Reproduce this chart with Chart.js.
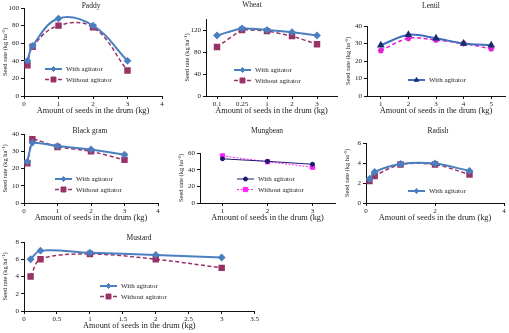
<!DOCTYPE html>
<html lang="en">
<head>
  <meta charset="UTF-8" />
  <title>Seed rate with and without agitator</title>
  <script src="https://cdn.jsdelivr.net/npm/chart.js"></script>
  <style>
    body { margin: 0; background: #fff; width: 509px; height: 333px; position: relative; overflow: hidden; }
    .panel { position: absolute; }
  </style>
</head>
<body>
  <div class="panel" id="p1"><canvas id="c1"></canvas></div>
  <div class="panel" id="p2"><canvas id="c2"></canvas></div>
  <div class="panel" id="p3"><canvas id="c3"></canvas></div>
  <div class="panel" id="p4"><canvas id="c4"></canvas></div>
  <div class="panel" id="p5"><canvas id="c5"></canvas></div>
  <div class="panel" id="p6"><canvas id="c6"></canvas></div>
  <div class="panel" id="p7"><canvas id="c7"></canvas></div>

  <script>
    // data (seed rate, kg/ha)
    const paddyX = [0.1, 0.25, 1, 2, 3];
    const paddyWith = [40, 57, 88, 80, 40];
    const paddyWithout = [35, 56, 80, 78, 29];

    const wheatLabels = ['0.1', '0.25', '1', '2', '3'];
    const wheatWith = [110, 123, 120, 116, 110];
    const wheatWithout = [89, 120, 118, 109, 94];

    const lentilX = [1, 2, 3, 4, 5];
    const lentilWith = [29, 35, 33, 30, 29];
    const lentilWithout = [26, 33, 32, 30, 27];

    const blackgramX = [0.1, 0.25, 1, 2, 3];
    const blackgramWith = [24, 35, 33, 31, 28];
    const blackgramWithout = [23, 37, 32.5, 30, 25];

    const mungbeanX = [1, 2, 3];
    const mungbeanWith = [53, 50, 46.5];
    const mungbeanWithout = [56.5, 49.5, 43];

    const radishX = [0.1, 0.25, 1, 2, 3];
    const radishWith = [2.4, 3.1, 3.9, 3.95, 3.2];
    const radishWithout = [2.2, 2.7, 3.85, 3.85, 2.85];

    const mustardX = [0.1, 0.25, 1, 2, 3];
    const mustardWith = [6, 7, 6.75, 6.5, 6.2];
    const mustardWithout = [4, 6, 6.6, 6, 5];

    const FONT = '"Liberation Serif", "Times New Roman", serif';
    const BLUE = '#4a7fc0';
    const MAROON = '#993366';

    const pts = (xs, ys) => xs.map((x, i) => ({ x: x, y: ys[i] }));

    function withAg(data, tension) {
      return { label: 'With agitator', data: data, borderColor: BLUE, backgroundColor: BLUE,
        borderWidth: 2, pointStyle: 'rectRot', pointRadius: 2.5, tension: tension };
    }
    function withoutAg(data, tension) {
      return { label: 'Without agitator', data: data, borderColor: MAROON, backgroundColor: MAROON,
        borderWidth: 1.5, borderDash: [4, 2.5], pointStyle: 'rect', pointRadius: 3.5, tension: tension };
    }

    // panel title + in-plot legend
    const panelDecor = {
      id: 'panelDecor',
      afterDatasetsDraw(chart, args, opts) {
        const ctx = chart.ctx;
        const area = chart.chartArea;
        ctx.save();
        ctx.fillStyle = '#222';
        ctx.font = '7.5px ' + FONT;
        ctx.textAlign = 'center';
        ctx.textBaseline = 'middle';
        ctx.fillText(opts.title, opts.titleX, opts.titleY);

        ctx.textAlign = 'left';
        opts.items.forEach((idx, row) => {
          const ds = chart.data.datasets[idx];
          const x = area.left + opts.dx;
          const y = area.top + opts.dy + row * 10.5;
          ctx.strokeStyle = ds.borderColor;
          ctx.lineWidth = ds.borderWidth;
          ctx.setLineDash(ds.borderDash || []);
          ctx.beginPath();
          ctx.moveTo(x, y);
          ctx.lineTo(x + 17, y);
          ctx.stroke();
          ctx.setLineDash([]);
          ctx.fillStyle = ds.pointBackgroundColor || ds.backgroundColor;
          ctx.strokeStyle = ds.pointBorderColor || ds.borderColor;
          ctx.lineWidth = 1;
          Chart.helpers.drawPoint(ctx, { pointStyle: ds.pointStyle, radius: ds.pointRadius, rotation: 0, borderWidth: 1 }, x + 8.5, y);
          ctx.fillStyle = '#222';
          ctx.font = '7px ' + FONT;
          ctx.fillText(ds.label, x + 21, y + 0.5);
        });
        ctx.restore();
      }
    };

    function panel(n, cfg) {
      const box = { x: cfg.plot.l - 24, y: cfg.top };
      const el = document.getElementById('p' + n);
      const w = cfg.plot.r - box.x + 5;
      const h = cfg.plot.b + 20 - box.y;
      el.style.left = box.x + 'px';
      el.style.top = box.y + 'px';
      el.style.width = w + 'px';
      el.style.height = h + 'px';

      const axisCommon = {
        border: { display: true, color: '#111', width: 1 },
        grid: { display: true, drawOnChartArea: false, drawTicks: true, tickLength: 3, color: '#111' }
      };

      new Chart(document.getElementById('c' + n), {
        type: 'line',
        data: { datasets: cfg.datasets },
        options: {
          responsive: true,
          maintainAspectRatio: false,
          animation: false,
          layout: { autoPadding: false, padding: { top: cfg.plot.t - box.y, right: 5, left: 0, bottom: 0 } },
          plugins: {
            legend: { display: false },
            tooltip: { enabled: false },
            panelDecor: {
              title: cfg.title,
              titleX: cfg.titleAt[0] - box.x,
              titleY: cfg.titleAt[1] - box.y,
              dx: cfg.legendAt[0] - cfg.plot.l,
              dy: cfg.legendAt[1] - cfg.plot.t,
              items: cfg.legendItems
            }
          },
          scales: {
            x: Object.assign({}, axisCommon, {
              type: 'linear',
              min: cfg.xMin, max: cfg.xMax,
              afterFit: s => { s.height = 20; },
              afterBuildTicks: s => {
                const ticks = [];
                for (let v = Math.ceil(cfg.xMin / cfg.xStep - 1e-9) * cfg.xStep; v <= cfg.xMax + 1e-9; v += cfg.xStep) {
                  ticks.push({ value: Math.round(v * 1000) / 1000 });
                }
                s.ticks = ticks;
              },
              ticks: {
                padding: 1, color: '#222', maxRotation: 0, autoSkip: false,
                font: { family: FONT, size: 7 },
                callback: v => cfg.xLabels ? (cfg.xLabels[v - 1] || '') : String(v)
              },
              title: { display: true, text: 'Amount of seeds in the drum (kg)', color: '#222',
                font: { family: FONT, size: 8.3 }, padding: { top: 0, bottom: 0 } }
            }),
            y: Object.assign({}, axisCommon, {
              min: 0, max: cfg.yMax,
              afterFit: s => { s.width = 24; },
              ticks: { stepSize: cfg.yStep, padding: 2, color: '#222', font: { family: FONT, size: 7 } },
              title: { display: true, text: 'Seed rate (kg ha\u207B\u00B9)', color: '#222',
                font: { family: FONT, size: 6.5 }, padding: { top: 1, bottom: 0 } }
            })
          }
        },
        plugins: [panelDecor]
      });
    }

    panel(1, {
      top: 0, plot: { l: 24, t: 8, r: 162, b: 96 },
      xMin: 0, xMax: 4, xStep: 1, yMax: 100, yStep: 20,
      title: 'Paddy', titleAt: [91, 6], legendAt: [45, 69], legendItems: [0, 1],
      datasets: [withAg(pts(paddyX, paddyWith), 0.4), withoutAg(pts(paddyX, paddyWithout), 0.4)]
    });

    panel(2, {
      top: 0, plot: { l: 206, t: 19, r: 337, b: 96 },
      xMin: 0.56, xMax: 5.8, xStep: 1, xLabels: wheatLabels, yMax: 140, yStep: 20,
      title: 'Wheat', titleAt: [252, 5], legendAt: [234, 70], legendItems: [0, 1],
      datasets: [
        withAg(pts([1, 2, 3, 4, 5], wheatWith), 0.1),
        withoutAg(pts([1, 2, 3, 4, 5], wheatWithout), 0.1)
      ]
    });

    panel(3, {
      top: 0, plot: { l: 367, t: 26, r: 505, b: 96 },
      xMin: 0.5, xMax: 5.5, xStep: 1, yMax: 40, yStep: 10,
      title: 'Lentil', titleAt: [431, 6], legendAt: [408, 80], legendItems: [0],
      datasets: [
        { label: 'With agitator', data: pts(lentilX, lentilWith), borderColor: '#3f6fb8', backgroundColor: '#1c2a6e',
          pointBackgroundColor: '#1c2a6e', pointBorderColor: '#1c2a6e',
          borderWidth: 2, pointStyle: 'triangle', pointRadius: 2.5, tension: 0.3 },
        { label: 'Without agitator', data: pts(lentilX, lentilWithout), borderColor: '#e020d8', backgroundColor: '#e020d8',
          borderWidth: 1.5, borderDash: [4, 2.5], pointStyle: 'star', pointRadius: 3, pointBorderWidth: 1.5, tension: 0.3 }
      ]
    });

    panel(4, {
      top: 120, plot: { l: 24, t: 134, r: 158, b: 203 },
      xMin: 0, xMax: 4, xStep: 1, yMax: 40, yStep: 10,
      title: 'Black gram', titleAt: [90, 131], legendAt: [55, 179], legendItems: [0, 1],
      datasets: [withAg(pts(blackgramX, blackgramWith), 0.1), withoutAg(pts(blackgramX, blackgramWithout), 0.1)]
    });

    panel(5, {
      top: 120, plot: { l: 200, t: 153, r: 335, b: 203 },
      xMin: 0.5, xMax: 3.5, xStep: 1, yMax: 60, yStep: 20,
      title: 'Mungbean', titleAt: [267, 131], legendAt: [237, 179], legendItems: [0, 1],
      datasets: [
        { label: 'With agitator', data: pts(mungbeanX, mungbeanWith), borderColor: '#1a1a6e', backgroundColor: '#1a1a6e',
          borderWidth: 1, pointStyle: 'circle', pointRadius: 2, tension: 0 },
        { label: 'Without agitator', data: pts(mungbeanX, mungbeanWithout), borderColor: '#ff22ff', backgroundColor: '#ff22ff',
          borderWidth: 1, borderDash: [2, 1.5], pointStyle: 'rect', pointRadius: 3, tension: 0 }
      ]
    });

    panel(6, {
      top: 120, plot: { l: 366, t: 143, r: 504, b: 203 },
      xMin: 0, xMax: 4, xStep: 2, yMax: 6, yStep: 2,
      title: 'Radish', titleAt: [438, 131], legendAt: [408, 191], legendItems: [0],
      datasets: [withAg(pts(radishX, radishWith), 0.3), withoutAg(pts(radishX, radishWithout), 0.3)]
    });

    panel(7, {
      top: 226, plot: { l: 24, t: 242, r: 255, b: 311 },
      xMin: 0, xMax: 3.5, xStep: 0.5, yMax: 8, yStep: 2,
      title: 'Mustard', titleAt: [139, 238], legendAt: [100, 286], legendItems: [0, 1],
      datasets: [withAg(pts(mustardX, mustardWith), 0.35), withoutAg(pts(mustardX, mustardWithout), 0.35)]
    });
  </script>
</body>
</html>
